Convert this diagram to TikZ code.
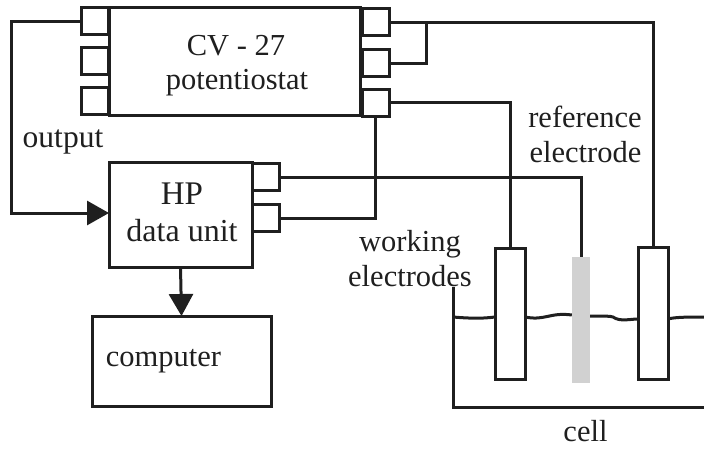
\documentclass[tikz,border=0pt]{standalone}
\usepackage{fontspec}
\setmainfont{Liberation Serif}
\usetikzlibrary{arrows.meta}
\tikzset{
  x=1pt,y=-1pt,
  wire/.style={line width=3pt,draw=black!88,line join=miter},
  wavy/.style={line width=3pt,draw=black!88},
  boxn/.style={draw=black!88,line width=3pt,fill=white,inner sep=0pt,outer sep=0pt,minimum width=#1},
  port/.style={draw=black!88,line width=3pt,fill=white,inner sep=0pt,outer sep=0pt,minimum width=27pt,minimum height=27pt},
  label/.style={inner sep=0pt,outer sep=0pt,anchor=base,text=black!88,font=\fontsize{30.5}{30.5}\selectfont},
  wide/.style={font=\fontsize{31.5}{31.5}\selectfont},
  head/.style={-{Triangle[length=22pt,width=24pt,fill=black!88]}}
}
\begin{document}
\begin{tikzpicture}
\useasboundingbox (0,0) rectangle (704,448);
% boxes
\node[boxn=251pt,minimum height=108pt] (cv) at (235,61.5) {};
\node[boxn=143pt,minimum height=105pt] (hp) at (180.5,214.5) {};
\node[boxn=179pt,minimum height=90pt] (comp) at (181.5,361) {};
% ports
\node[port] (l1) at (95,21) {};
\node[port] (l2) at (95,61) {};
\node[port] (l3) at (95,101) {};
\node[port] (r1) at (375.5,22) {};
\node[port] (r2) at (375.5,63) {};
\node[port] (r3) at (375.5,102.5) {};
\node[port] (h1) at (266,177) {};
\node[port] (h2) at (266,218) {};
% helpers
\coordinate (lcorner) at (11,21);
\coordinate (wt) at (426,22);
\coordinate (ctop) at (453,287);
\coordinate (cbl) at (453,407);
\coordinate (cbr) at (704,407);
\coordinate (wl) at (453,317);
\coordinate (wr) at (704,317);
% electrodes
\node[boxn=30pt,minimum height=131pt] (e1) at (510,313.5) {};
\node[boxn=30pt,minimum height=132pt] (e3) at (653,313) {};
\node[fill=black!18,draw=none,inner sep=0pt,minimum width=18pt,minimum height=126pt] (eg) at (581,320) {};
% wires
\draw[wire] (l1.west) -- (lcorner) |- (87,213) ;
\draw[wire,head] (11,213) -- (hp.west |- 0,213);
\draw[wire] (r1.east) -- (r1.east -| e3.north) -- (e3.north);
\draw[wire] (wt) |- (r2.east);
\draw[wire] (r3.east) -| (e1.north);
\draw[wire] (h1.east) -| (eg.north);
\draw[wire] (h2.east) -| (r3.south);
\draw[wire,head] (hp.south) -- (comp.north);
% cell
\draw[wire] (ctop) -- (cbl) -- (cbr);
\draw[wavy] (wl) .. controls (465,318) and (480,319) .. (e1.west |- 0,317);
\draw[wavy] (e1.east |- 0,317) .. controls (545,321) and (550,312) .. (eg.west |- 0,315);
\draw[wavy] (eg.east |- 0,316) .. controls (605,316) and (610,316) .. (613,317) .. controls (620,322) and (630,319) .. (e3.west |- 0,319);
\draw[wavy] (e3.east |- 0,319) .. controls (675,317) and (690,317) .. (wr);
% text
\node[label] (t1) at (236,55) {CV - 27};
\node[label] (t2) at (237,89) {potentiostat};
\node[label,wide] (t3) at (63,147) {output};
\node[label,font=\fontsize{33}{33}\selectfont] (t4) at (182,204) {HP};
\node[label,font=\fontsize{32}{32}\selectfont] (t5) at (182,241) {data unit};
\node[label] (t6) at (163.5,366) {computer};
\node[label] (t7) at (585,127) {reference};
\node[label] (t8) at (585.5,162) {electrode};
\node[label] (t9) at (410,251) {working};
\node[label] (t10) at (410,286) {electrodes};
\node[label] (t11) at (585.5,441) {cell};
\end{tikzpicture}
\end{document}
